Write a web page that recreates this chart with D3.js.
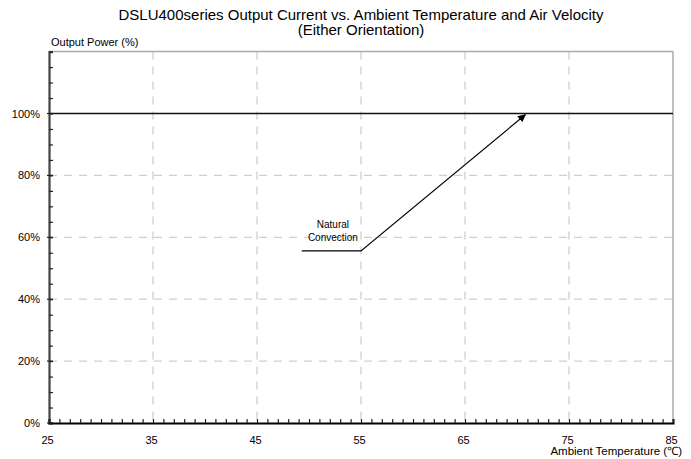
<!DOCTYPE html>
<html><head><meta charset="utf-8">
<script src="https://cdn.jsdelivr.net/npm/d3@7"></script>
<style>body{margin:0;background:#fff}svg{display:block}text{font-family:"Liberation Sans",Arial,sans-serif;fill:#000}</style>
</head><body><svg id="c" width="691" height="459"></svg>
<script>
const titleLines = ["DSLU400series Output Current vs. Ambient Temperature and Air Velocity", "(Either Orientation)"];
const yLabel = "Output Power (%)";
const xLabel = "Ambient Temperature (℃)";
const xTicks = [25, 35, 45, 55, 65, 75, 85];
const yTicks = [0, 20, 40, 60, 80, 100];
const ratedLineX = [25, 85];
const ratedLineY = [100, 100];
const curveX = [49.3, 55, 70.8];
const curveY = [55.6, 55.6, 99.6];
const curveLabel = ["Natural", "Convection"];
const labelPos = [52.3, 63]; // x, y in data units

const svg = d3.select("#c");
const L = 49, R = 673, T = 51.6, B = 423;
const x = d3.scaleLinear().domain([25, 85]).range([L, R]);
const y = d3.scaleLinear().domain([0, 120]).range([B, T]);

// grid
const g = svg.append("g");
g.selectAll(".vg").data(xTicks.slice(1, -1)).join("line")
  .attr("x1", d => x(d)).attr("x2", d => x(d)).attr("y1", T).attr("y2", B)
  .attr("stroke", "#cfcfcf").attr("stroke-width", 1.3).attr("stroke-dasharray", "8,7");
g.selectAll(".hg").data(yTicks.slice(1, -1)).join("line")
  .attr("x1", L).attr("x2", R).attr("y1", d => y(d)).attr("y2", d => y(d))
  .attr("stroke", "#cfcfcf").attr("stroke-width", 1.3).attr("stroke-dasharray", "8,7");

// top & right border
svg.append("line").attr("x1", L).attr("x2", R).attr("y1", T).attr("y2", T).attr("stroke", "#aaa").attr("stroke-width", 1.5);
svg.append("line").attr("x1", R).attr("x2", R).attr("y1", T).attr("y2", B).attr("stroke", "#aaa").attr("stroke-width", 1.5);

// rated line
const line = d3.line().x(d => x(d[0])).y(d => y(d[1]));
svg.append("path").attr("d", line(d3.zip(ratedLineX, ratedLineY))).attr("fill", "none").attr("stroke", "#111").attr("stroke-width", 1.5);

// axes
const minorX = d3.range(25, 86, 1);
const minorY = d3.range(0, 121, 5);
const xAxis = d3.axisBottom(x).tickValues(minorX).tickSize(-4).tickFormat("");
const yAxis = d3.axisLeft(y).tickValues(minorY).tickSize(-4).tickFormat("");
const ya = svg.append("g").attr("transform", `translate(${L},0)`).call(yAxis);
ya.select(".domain").attr("stroke", "#444").attr("stroke-width", 2.2);
ya.selectAll(".tick line").attr("stroke", "#222").attr("stroke-width", 1.2);
const xa = svg.append("g").attr("transform", `translate(0,${B})`).call(xAxis);
xa.select(".domain").attr("stroke", "#000").attr("stroke-width", 2);
xa.selectAll(".tick line").attr("stroke", "#222").attr("stroke-width", 1.2);
// major y ticks extend outside a bit
svg.selectAll(".ymaj").data(yTicks).join("line")
  .attr("x1", L - 2).attr("x2", L + 4).attr("y1", d => y(d)).attr("y2", d => y(d))
  .attr("stroke", "#222").attr("stroke-width", 1.2);

// tick labels
svg.selectAll(".yl").data(yTicks).join("text")
  .attr("x", 40).attr("y", d => y(d) + 4).attr("text-anchor", "end").attr("font-size", 11).text(d => d + "%");
svg.selectAll(".xl").data(xTicks).join("text")
  .attr("x", d => x(d) - 1.5).attr("y", B + 21).attr("text-anchor", "middle").attr("font-size", 11).text(d => d);

// titles
svg.selectAll(".tt").data(titleLines).join("text")
  .attr("x", 361).attr("y", (d, i) => 19.5 + i * 15.5).attr("text-anchor", "middle").attr("font-size", 15).text(d => d);
svg.append("text").attr("x", 51).attr("y", 45.5).attr("font-size", 11).text(yLabel);
svg.append("text").attr("x", 682).attr("y", 455).attr("text-anchor", "end").attr("font-size", 11.5).text(xLabel);

// curve with arrow
svg.append("defs").append("marker").attr("id", "ah").attr("viewBox", "0 0 10 10").attr("refX", 9).attr("refY", 5)
  .attr("markerWidth", 8).attr("markerHeight", 8).attr("markerUnits", "userSpaceOnUse").attr("orient", "auto")
  .append("path").attr("d", "M0,0L10,5L0,10z").attr("fill", "#000");
svg.append("path").attr("d", line(d3.zip(curveX, curveY))).attr("fill", "none").attr("stroke", "#000").attr("stroke-width", 1.2)
  .attr("marker-end", "url(#ah)");

svg.selectAll(".cl").data(curveLabel).join("text")
  .attr("x", x(labelPos[0])).attr("y", (d, i) => y(labelPos[1]) + i * 12.5).attr("text-anchor", "middle").attr("font-size", 10).text(d => d);
</script></body></html>
